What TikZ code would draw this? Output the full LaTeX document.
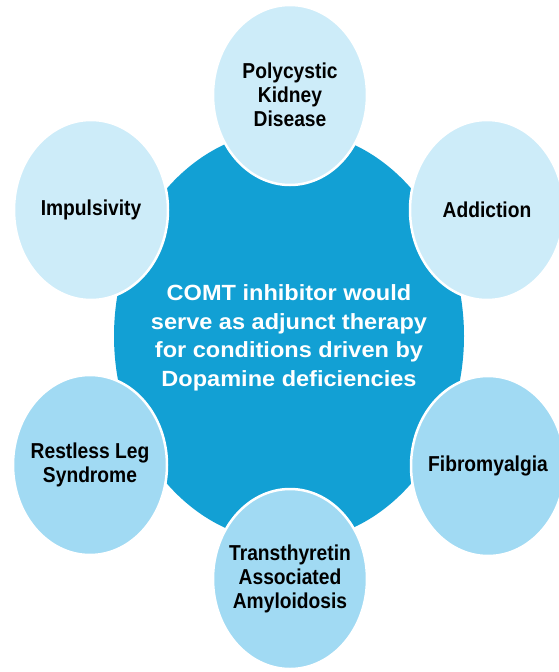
\documentclass[tikz,border=0pt]{standalone}
\usepackage{fontspec}
\setmainfont{Liberation Sans}
\newfontfamily\bubblefont[FakeStretch=0.89]{Liberation Sans}
\newfontfamily\hubfont[FakeStretch=1.07]{Liberation Sans}
\usetikzlibrary{shapes.geometric}

\definecolor{hubblue}{RGB}{18,160,212}
\definecolor{palecirc}{RGB}{205,236,249}
\definecolor{softcirc}{RGB}{161,218,243}

\begin{document}
\begin{tikzpicture}[x=1pt, y=1pt]
\tikzset{ bubble/.style={ellipse, draw=white, line width=2.5pt, inner sep=0pt,
    minimum width=154pt, minimum height=180pt},
  bubbletext/.style={align=center, inner sep=0pt,
    font=\bubblefont\bfseries\fontsize{21.6}{24}\selectfont},
  hubtext/.style={align=center, inner sep=0pt, text=white,
    font=\hubfont\bfseries\fontsize{22}{28.5}\selectfont}, }

\useasboundingbox (0,0) rectangle (558,-672);
\fill [white] (0,0) rectangle (558,-672);

% centre disc
\node [ellipse, fill=hubblue, inner sep=0pt, minimum width=350pt, minimum height=412pt,
       label={[hubtext, yshift=-2pt]center:COMT inhibitor would\\serve as adjunct therapy\\for conditions driven by\\Dopamine deficiencies}]
       (hub) at (289,-336) {};

% conditions round it
\node [bubble, fill=palecirc, label={[bubbletext]center:Polycystic\\Kidney\\Disease}] (pkd) at (290,-95) {};
\node [bubble, fill=palecirc, label={[bubbletext]center:Addiction}] (addict) at (487,-210) {};
\node [bubble, fill=palecirc, label={[bubbletext]center:Impulsivity}] (impuls) at (91,-210) {};
\node [bubble, fill=softcirc, label={[bubbletext]center:Restless Leg\\Syndrome}] (rls) at (90,-465) {};
\node [bubble, fill=softcirc, label={[bubbletext]center:Fibromyalgia}] (fibro) at (488,-466) {};
\node [bubble, fill=softcirc, label={[bubbletext]center:Transthyretin\\Associated\\Amyloidosis}] (ttr) at (290,-579) {};

\end{tikzpicture}
\end{document}
